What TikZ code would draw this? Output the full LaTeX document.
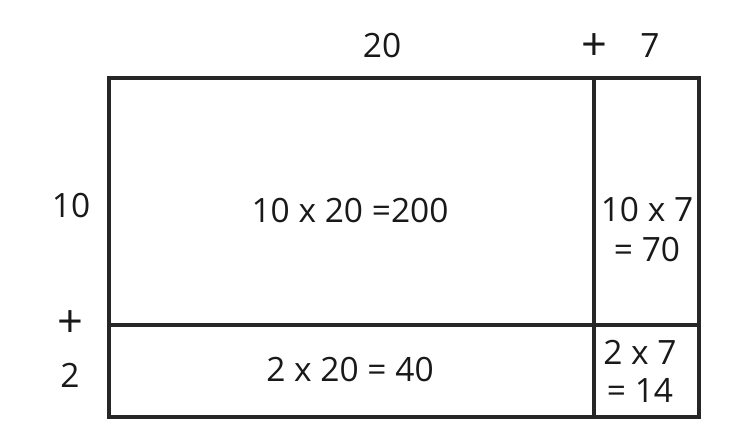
\documentclass[tikz,border=0pt]{standalone}
\usepackage{fontspec}
\setmainfont{Open Sans}
\newcommand{\bigplus}{\scalebox{1.35}{+}}
\begin{document}
\begin{tikzpicture}[x=1pt,y=-1pt,
  lbl/.style={font=\fontsize{33.5}{38}\selectfont, inner sep=0pt, text=black!90},
  frame/.style={line width=3.4pt, draw=black!85}]
\useasboundingbox (0,0) rectangle (750,435);
\coordinate (tl) at (109,78);
\coordinate (br) at (699,417);
\coordinate (vt) at (594,78);
\coordinate (vb) at (594,417);
\coordinate (hl) at (109,325);
\coordinate (hr) at (699,325);
\draw[frame] (tl) rectangle (br);
\draw[frame] (vt) -- (vb);
\draw[frame] (hl) -- (hr);
\node[lbl] (t20) at (382,46) {20};
\node[lbl] (tplus) at (594,47) {\bigplus};
\node[lbl] (t7) at (650,46) {7};
\node[lbl] (l10) at (71,206) {10};
\node[lbl] (lplus) at (70,324) {\bigplus};
\node[lbl] (l2) at (70,375) {2};
\node[lbl] (c1) at (350,211) {10 x 20 =200};
\node[lbl, align=center] (c2) at (647,230) {10 x 7\\[2pt]= 70};
\node[lbl] (c3) at (350,370) {2 x 20 = 40};
\node[lbl, align=center] (c4) at (640,371) {2 x 7\\[0pt]= 14};
\end{tikzpicture}
\end{document}
